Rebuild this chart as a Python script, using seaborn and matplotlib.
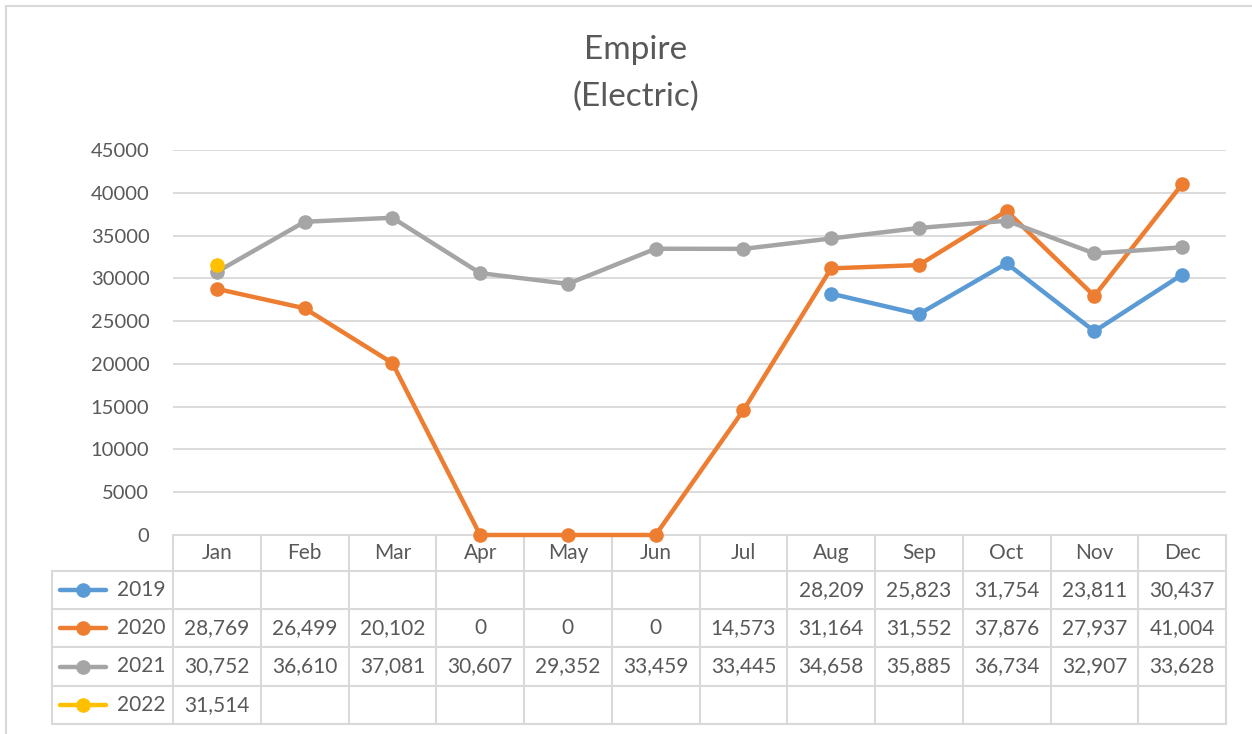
import numpy as np
import pandas as pd
import matplotlib.pyplot as plt
import matplotlib.transforms as mtrans
import seaborn as sns

# --- Daten ---
months = ["Jan", "Feb", "Mar", "Apr", "May", "Jun",
          "Jul", "Aug", "Sep", "Oct", "Nov", "Dec"]
years = ["2019", "2020", "2021", "2022"]
v2019 = [np.nan] * 7 + [28209, 25823, 31754, 23811, 30437]
v2020 = [28769, 26499, 20102, 0, 0, 0, 14573, 31164, 31552, 37876, 27937, 41004]
v2021 = [30752, 36610, 37081, 30607, 29352, 33459, 33445, 34658, 35885, 36734, 32907, 33628]
v2022 = [31514] + [np.nan] * 11
colors = ["#5B9BD5", "#ED7D31", "#A5A5A5", "#FFC000"]
yticks = [0, 5000, 10000, 15000, 20000, 25000, 30000, 35000, 40000, 45000]

series = [v2019, v2020, v2021, v2022]
rows = []
for y, vals in zip(years, series):
    for i, v in enumerate(vals):
        rows.append({"year": y, "pos": i, "month": months[i], "value": v})
df = pd.DataFrame(rows).dropna()

sns.set_style("white")
plt.rcParams["font.family"] = ["Lato", "DejaVu Sans"]
txt = "#595959"
grid = "#D9D9D9"
fs = 15

W, H = 1252, 734
fig = plt.figure(figsize=(W / 100, H / 100), dpi=100)
ax = fig.add_axes([173 / W, 1 - 535 / H, (1226 - 173) / W, (535 - 150) / H])

sns.lineplot(data=df, x="pos", y="value", hue="year", hue_order=years,
             palette=colors, marker="o", markersize=10.5, markeredgewidth=0,
             linewidth=3.2, legend=False, ax=ax)
for ln in ax.lines:
    ln.set_clip_on(False)

ax.set_xlim(-0.5, 11.5)
ax.set_ylim(0, 45000)
ax.set_yticks(yticks)
ax.set_yticklabels([str(t) for t in yticks])
ax.tick_params(axis="y", length=0, pad=17, labelsize=14.5, labelcolor=txt)
ax.set_xticks([])
ax.set_xlabel("")
ax.set_ylabel("")
ax.yaxis.grid(True, color=grid, linewidth=1.3)
ax.set_axisbelow(True)
for s in ax.spines.values():
    s.set_visible(False)

fig.text(636 / W, 1 - 50 / H, "Empire", ha="center", va="center",
         fontsize=24, color=txt)
fig.text(636 / W, 1 - 97 / H, "(Electric)", ha="center", va="center",
         fontsize=24, color=txt)

# Rahmen (links/oben)
fig.add_artist(plt.Line2D([6 / W, 6 / W], [0, 1 - 6 / H], transform=fig.transFigure,
                          color=grid, lw=1.5))
fig.add_artist(plt.Line2D([6 / W, 1], [1 - 6 / H, 1 - 6 / H], transform=fig.transFigure,
                          color=grid, lw=1.5))

# --- Datentabelle ---
bt = mtrans.blended_transform_factory(ax.transData, fig.transFigure)
ft = fig.transFigure
row_edges = [535, 571, 609, 647, 686, 724]
fy = lambda p: 1 - p / H
lab_left = 52 / W

# horizontale Linien
ax_left = 173 / W
for i, r in enumerate(row_edges):
    x0 = ax_left if i == 0 else lab_left
    fig.add_artist(plt.Line2D([x0, 1226 / W], [fy(r), fy(r)], transform=ft,
                              color=grid, lw=1.5, zorder=0))
# vertikale Linien
for k in range(13):
    fig.add_artist(plt.Line2D([k - 0.5, k - 0.5], [fy(535), fy(724)], transform=bt,
                              color=grid, lw=1.5, zorder=0))
fig.add_artist(plt.Line2D([lab_left, lab_left], [fy(571), fy(724)], transform=ft,
                          color=grid, lw=1.5, zorder=0))

# Kopfzeile
for i, m in enumerate(months):
    fig.text(i, fy(553), m, transform=bt, ha="center", va="center",
             fontsize=fs, color=txt)

# Zeilen
for j, (y, vals, c) in enumerate(zip(years, series, colors)):
    yc = fy((row_edges[j + 1] + row_edges[j + 2]) / 2)
    fig.add_artist(plt.Line2D([60 / W, 106 / W], [yc, yc], transform=ft,
                              color=c, lw=3.2))
    fig.add_artist(plt.Line2D([83 / W], [yc], transform=ft, color=c,
                              marker="o", markersize=10.5, markeredgewidth=0))
    fig.text(117 / W, yc, y, transform=ft, ha="left", va="center",
             fontsize=fs, color=txt)
    for i, v in enumerate(vals):
        if np.isnan(v):
            continue
        fig.text(i, yc, f"{int(v):,}", transform=bt, ha="center", va="center",
                 fontsize=fs, color=txt)

plt.savefig("out.png", dpi=100)
